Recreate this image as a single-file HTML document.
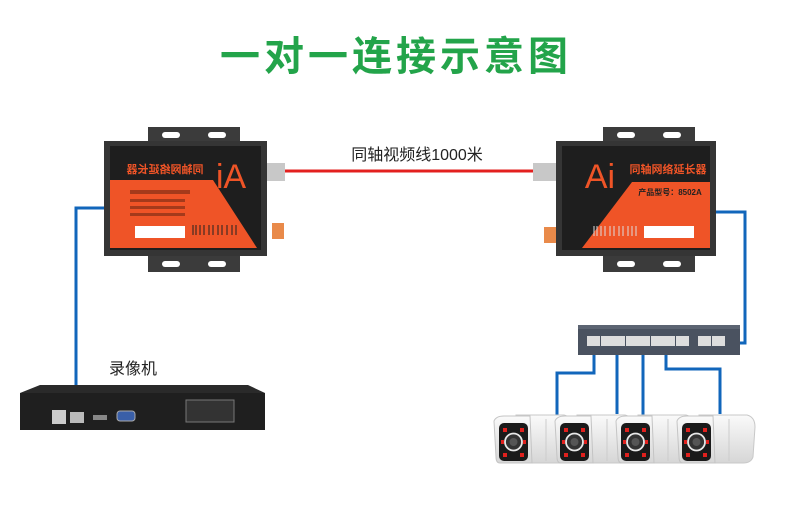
<!DOCTYPE html>
<html><head><meta charset="utf-8"><style>
html,body{margin:0;padding:0;background:#fff;width:790px;height:508px;overflow:hidden}
svg{display:block}
text{font-family:"Liberation Sans","Noto Sans CJK SC",sans-serif}
</style></head><body>
<svg width="790" height="508" viewBox="0 0 790 508" xmlns="http://www.w3.org/2000/svg">
<defs>
<linearGradient id="cg" x1="0" y1="0" x2="0" y2="1"><stop offset="0" stop-color="#fafafa"/><stop offset="1" stop-color="#d6d6d6"/></linearGradient>
<g id="cam">
  <path d="M22,2 L70,2 Q78,4 78,14 L76,44 Q74,50 66,50 L22,50 Z" fill="url(#cg)" stroke="#c8c8c8"/>
  <path d="M0,8 Q2,3 10,3 L36,3 L38,50 L6,50 Q2,50 2,44 Z" fill="url(#cg)" stroke="#c4c4c4"/>
  <rect x="5" y="10" width="29" height="38" rx="5" fill="#1a1a1a"/>
  <circle cx="19.5" cy="29" r="8.5" fill="#333" stroke="#e8e8e8" stroke-width="1.8"/>
  <circle cx="19.5" cy="29" r="4" fill="#555"/>
  <g fill="#e0201d"><rect x="9" y="15" width="4" height="4"/><rect x="26" y="15" width="4" height="4"/><rect x="7" y="27" width="3" height="4"/><rect x="29" y="27" width="3" height="4"/><rect x="9" y="40" width="4" height="4"/><rect x="26" y="40" width="4" height="4"/></g>
  <line x1="52" y1="6" x2="52" y2="48" stroke="#ccc"/>
</g>
<g id="ear">
  <rect x="0" y="0" width="92" height="16" fill="#3b3b3b"/>
  <rect x="14" y="5" width="18" height="6" rx="3" fill="#fff"/>
  <rect x="60" y="5" width="18" height="6" rx="3" fill="#fff"/>
</g>
</defs>

<text x="396" y="70" text-anchor="middle" font-size="40" font-weight="bold" fill="#23a44a" letter-spacing="4">一对一连接示意图</text>

<line x1="284" y1="171" x2="533" y2="171" stroke="#e3201f" stroke-width="3"/>
<text x="417" y="160" text-anchor="middle" font-size="16" fill="#222">同轴视频线1000米</text>

<g fill="none" stroke="#1166bb" stroke-width="3">
  <polyline points="104,208 76,208 76,398"/>
  <polyline points="716,212 745,212 745,343 728,343"/>
  <polyline points="594,340 594,373 557,373 557,415"/>
  <polyline points="617,340 617,414"/>
  <polyline points="643,340 643,417"/>
  <polyline points="666,340 666,369 720,369 720,414"/>
</g>

<use href="#ear" x="148" y="127"/>
<use href="#ear" x="148" y="256"/>
<rect x="104" y="141" width="163" height="115" fill="#353535"/>
<rect x="110" y="146" width="151" height="104" fill="#1e1e1e"/>
<polygon points="110,180 213,180 257,248 110,248" fill="#ef5427"/>
<text x="175" y="173" text-anchor="middle" font-size="11" font-weight="bold" fill="#ef5427" transform="scale(-1,1) translate(-340,0)">同轴网络延长器</text>
<text x="231" y="188" text-anchor="middle" font-size="34" fill="#ef5427" transform="scale(-1,1) translate(-462,0)">Ai</text>
<rect x="135" y="226" width="50" height="12" fill="#fff"/>
<g stroke="#222" stroke-width="1"><line x1="193" y1="225" x2="193" y2="235"/><line x1="196" y1="225" x2="196" y2="235"/><line x1="200" y1="225" x2="200" y2="235"/><line x1="204" y1="225" x2="204" y2="235"/><line x1="209" y1="225" x2="209" y2="235"/><line x1="213" y1="225" x2="213" y2="235"/><line x1="218" y1="225" x2="218" y2="235"/><line x1="222" y1="225" x2="222" y2="235"/><line x1="227" y1="225" x2="227" y2="235"/><line x1="232" y1="225" x2="232" y2="235"/><line x1="236" y1="225" x2="236" y2="235"/></g>
<rect x="130" y="190" width="60" height="4" fill="#5a2010" opacity=".5"/>
<rect x="130" y="199" width="55" height="3" fill="#5a2010" opacity=".5"/>
<rect x="130" y="206" width="55" height="3" fill="#5a2010" opacity=".5"/>
<rect x="130" y="213" width="55" height="3" fill="#5a2010" opacity=".5"/>
<rect x="267" y="163" width="18" height="18" fill="#c8c8c8"/>
<rect x="272" y="223" width="12" height="16" fill="#e98a4a"/>

<use href="#ear" x="603" y="127"/>
<use href="#ear" x="603" y="256"/>
<rect x="556" y="141" width="160" height="115" fill="#353535"/>
<rect x="562" y="146" width="148" height="104" fill="#1e1e1e"/>
<polygon points="632,182 710,182 710,248 582,248" fill="#ef5427"/>
<text x="668" y="173" text-anchor="middle" font-size="11" font-weight="bold" fill="#ef5427">同轴网络延长器</text>
<text x="600" y="188" text-anchor="middle" font-size="34" fill="#ef5427">Ai</text>
<text x="670" y="195" text-anchor="middle" font-size="8" font-weight="bold" fill="#222">产品型号：8502A</text>
<rect x="644" y="226" width="50" height="12" fill="#fff"/>
<g stroke="#ddd" stroke-width="1"><line x1="594" y1="226" x2="594" y2="236"/><line x1="597" y1="226" x2="597" y2="236"/><line x1="601" y1="226" x2="601" y2="236"/><line x1="605" y1="226" x2="605" y2="236"/><line x1="610" y1="226" x2="610" y2="236"/><line x1="614" y1="226" x2="614" y2="236"/><line x1="619" y1="226" x2="619" y2="236"/><line x1="623" y1="226" x2="623" y2="236"/><line x1="628" y1="226" x2="628" y2="236"/><line x1="632" y1="226" x2="632" y2="236"/><line x1="636" y1="226" x2="636" y2="236"/></g>
<rect x="533" y="163" width="23" height="18" fill="#c8c8c8"/>
<rect x="544" y="227" width="12" height="16" fill="#e98a4a"/>

<text x="133" y="374" text-anchor="middle" font-size="16" fill="#222">录像机</text>
<polygon points="40,385 248,385 265,393 265,430 20,430 20,393" fill="#2a2a2a"/>
<rect x="20" y="393" width="245" height="37" fill="#1f1f1f"/>
<rect x="52" y="410" width="14" height="14" fill="#ccc"/>
<rect x="70" y="412" width="14" height="11" fill="#bbb"/>
<rect x="93" y="415" width="14" height="5" fill="#888"/>
<rect x="117" y="411" width="18" height="10" rx="3" fill="#3a5fa8" stroke="#aaa"/>
<rect x="186" y="400" width="48" height="22" fill="#333" stroke="#777"/>

<rect x="578" y="325" width="162" height="30" fill="#4a5260"/>
<rect x="578" y="325" width="162" height="4" fill="#5c6472"/>
<g fill="#ddd">
  <rect x="587" y="336" width="13" height="10"/><rect x="601" y="336" width="13" height="10"/><rect x="612" y="336" width="13" height="10"/><rect x="626" y="336" width="13" height="10"/><rect x="637" y="336" width="13" height="10"/><rect x="651" y="336" width="13" height="10"/><rect x="662" y="336" width="13" height="10"/><rect x="676" y="336" width="13" height="10"/>
  <rect x="698" y="336" width="13" height="10"/><rect x="712" y="336" width="13" height="10"/>
</g>

<use href="#cam" x="494" y="413"/>
<use href="#cam" x="555" y="413"/>
<use href="#cam" x="616" y="413"/>
<use href="#cam" x="677" y="413"/>
</svg>
</body></html>
